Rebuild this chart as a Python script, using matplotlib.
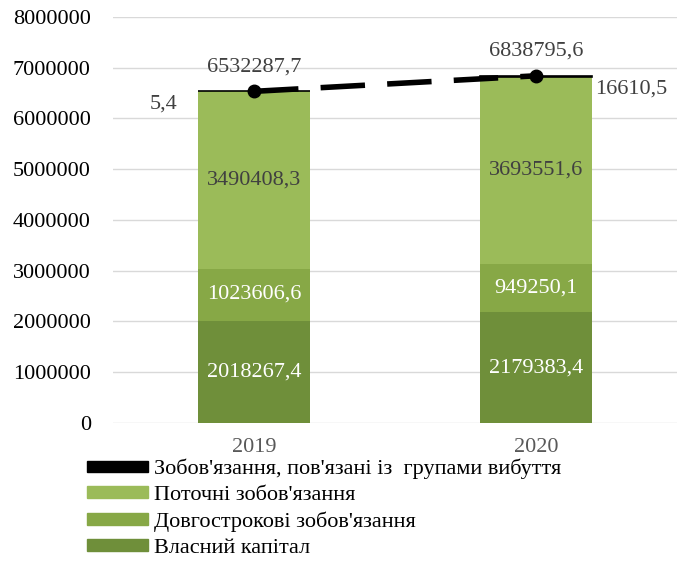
import matplotlib.pyplot as plt
import matplotlib.patches as mpatches
import numpy as np

plt.rcParams['font.family'] = ['Liberation Serif', 'DejaVu Serif']

years = ['2019', '2020']
own_capital = [2018267.4, 2179383.4]
long_term = [1023606.6, 949250.1]
current = [3490408.3, 3693551.6]
disposal = [5.4, 16610.5]
totals = [6532287.7, 6838795.6]

labels = ["Зобов'язання, пов'язані із  групами вибуття",
          "Поточні зобов'язання",
          "Довгострокові зобов'язання",
          "Власний капітал"]

c_own = '#6f8f3a'
c_long = '#87a846'
c_cur = '#9bbb59'
fs = 16

fig = plt.figure(figsize=(6.77, 5.61), dpi=100)
ax = fig.add_axes([0.167, 0.246, 0.833, 0.724])

x = np.arange(len(years))
w = 0.4
b1 = np.array(own_capital)
b2 = b1 + np.array(long_term)
b3 = b2 + np.array(current)
ax.bar(x, own_capital, w, color=c_own, zorder=2)
ax.bar(x, long_term, w, bottom=b1, color=c_long, zorder=2)
ax.bar(x, current, w, bottom=b2, color=c_cur, zorder=2)
ax.bar(x, disposal, w, bottom=b3, color='black', edgecolor='black', linewidth=1.2, zorder=3)

ax.plot(x, totals, color='black', lw=4, ls=(0, (8, 4)), marker='o', ms=9, zorder=4)

def fmt(v):
    return f"{v:.1f}".replace('.', ',')

for i in range(len(years)):
    ax.text(x[i], own_capital[i] / 2, fmt(own_capital[i]),
            ha='center', va='center', color='white', fontsize=fs, zorder=5)
    ax.text(x[i], b1[i] + long_term[i] / 2, fmt(long_term[i]),
            ha='center', va='center', color='white', fontsize=fs, zorder=5)
    ax.text(x[i], b2[i] + current[i] / 2, fmt(current[i]),
            ha='center', va='center', color='#404040', fontsize=fs, zorder=5)
    ax.text(x[i], totals[i] + 300000, fmt(totals[i]),
            ha='center', va='bottom', color='#404040', fontsize=fs, zorder=5)

ax.text(x[0] - w / 2 - 0.07, b3[0] - 250000, fmt(disposal[0]),
        ha='right', va='center', color='#404040', fontsize=fs)
ax.text(x[1] + w / 2 + 0.01, b3[1] - 250000, fmt(disposal[1]),
        ha='left', va='center', color='#404040', fontsize=fs)

ax.set_xlim(-0.5, 1.5)
ax.set_ylim(0, 8000000)
ax.set_yticks(np.arange(0, 8000001, 1000000))
ax.set_yticklabels([str(v) for v in range(0, 8000001, 1000000)], fontsize=fs)
ax.set_xticks(x)
ax.set_xticklabels(years, fontsize=fs, color='#595959')
ax.tick_params(length=0)
ax.tick_params(axis='y', pad=16)
ax.tick_params(axis='x', pad=11)
ax.grid(axis='y', color='#d9d9d9', lw=1, zorder=0)
for s in ax.spines.values():
    s.set_visible(False)

handles = [mpatches.Patch(color='black'),
           mpatches.Patch(color=c_cur),
           mpatches.Patch(color=c_long),
           mpatches.Patch(color=c_own)]
fig.legend(handles, labels, loc='upper left', bbox_to_anchor=(0.128, 0.182),
           frameon=False, fontsize=fs, handlelength=2.75, handleheight=0.45,
           handletextpad=0.3, labelspacing=0.3, borderpad=0, borderaxespad=0)

plt.savefig('out.png', dpi=100)
